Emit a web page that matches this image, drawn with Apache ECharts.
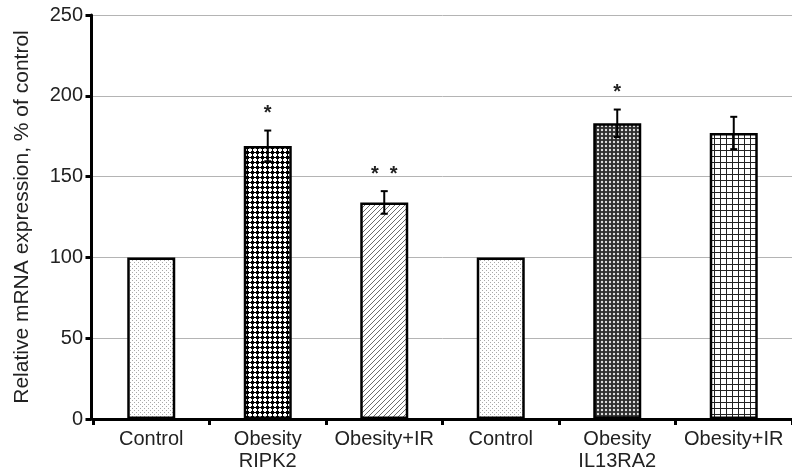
<!DOCTYPE html>
<html>
<head>
<meta charset="utf-8">
<script src="https://cdn.jsdelivr.net/npm/echarts@6/dist/echarts.min.js"></script>
<style>
  html, body { margin: 0; padding: 0; background: #fff; }
  #chart { width: 792px; height: 472px; }
</style>
</head>
<body>
<div id="chart"></div>
<script>
// Relative mRNA expression of RIPK2 and IL13RA2 (% of control)
const categories = ['Control', 'Obesity\nRIPK2', 'Obesity+IR', 'Control', 'Obesity\nIL13RA2', 'Obesity+IR'];
const expression = [100, 169, 134, 100, 183, 177];
const errors = [0, 9.5, 7, 0, 8.5, 10];
const significance = ['', '*', '*  *', '', '*', ''];
const fillKinds = ['dots', 'checker', 'hatch', 'dots', 'darkDots', 'grid'];

const FONT = 'Liberation Sans, Arial, sans-serif';

// Small repeating tiles used as bar fills
function makeTile(kind) {
  const c = document.createElement('canvas');
  const ctx = c.getContext('2d');
  if (kind === 'dots') {
    c.width = 4; c.height = 4;
    ctx.fillStyle = '#fff'; ctx.fillRect(0, 0, 4, 4);
    ctx.fillStyle = '#a8a8a8';
    ctx.fillRect(0, 0, 1, 1);
    ctx.fillRect(2, 2, 1, 1);
  } else if (kind === 'checker') {
    c.width = 5; c.height = 5;
    ctx.fillStyle = '#fff'; ctx.fillRect(0, 0, 5, 5);
    ctx.fillStyle = '#000';
    ctx.fillRect(1, 1, 3, 3);
    ctx.fillRect(2, 0, 1, 5);
    ctx.fillRect(0, 2, 5, 1);
  } else if (kind === 'hatch') {
    c.width = 5; c.height = 5;
    ctx.fillStyle = '#fff'; ctx.fillRect(0, 0, 5, 5);
    ctx.strokeStyle = '#6a6a6a'; ctx.lineWidth = 1;
    ctx.beginPath();
    ctx.moveTo(-1, 6); ctx.lineTo(6, -1);
    ctx.moveTo(-1, 1); ctx.lineTo(1, -1);
    ctx.moveTo(4, 6); ctx.lineTo(6, 4);
    ctx.stroke();
  } else if (kind === 'darkDots') {
    c.width = 4; c.height = 4;
    ctx.fillStyle = '#2e2e2e'; ctx.fillRect(0, 0, 4, 4);
    ctx.fillStyle = '#e0e0e0';
    ctx.beginPath(); ctx.arc(2, 2, 1.2, 0, Math.PI * 2); ctx.fill();
  } else if (kind === 'grid') {
    c.width = 6; c.height = 6;
    ctx.fillStyle = '#fff'; ctx.fillRect(0, 0, 6, 6);
    ctx.fillStyle = '#222';
    ctx.fillRect(0, 0, 6, 1);
    ctx.fillRect(0, 0, 1, 6);
  }
  return c;
}

const barData = expression.map((v, i) => ({
  value: v,
  itemStyle: { color: { image: makeTile(fillKinds[i]), repeat: 'repeat' } }
}));

const errorData = expression.map((v, i) => [i, v - errors[i], v + errors[i], errors[i]]);

const chart = echarts.init(document.getElementById('chart'), null, { renderer: 'canvas' });

chart.setOption({
  animation: false,
  backgroundColor: '#fff',
  grid: { left: 93, top: 15, width: 706, height: 406.5 },
  xAxis: {
    type: 'category',
    data: categories,
    axisLine: { lineStyle: { color: '#000', width: 3 } },
    axisTick: { show: true, length: 6, lineStyle: { color: '#000', width: 3 } },
    axisLabel: { interval: 0, color: '#222', fontSize: 20, fontFamily: FONT, lineHeight: 22, margin: 9 }
  },
  yAxis: {
    type: 'value',
    min: 0, max: 250, interval: 50,
    offset: 1.5,
    name: 'Relative mRNA expression, % of control',
    nameLocation: 'middle',
    nameRotate: 90,
    nameGap: 58.5,
    nameTextStyle: { color: '#222', fontSize: 21, fontFamily: FONT },
    axisLine: { show: true, lineStyle: { color: '#000', width: 3 } },
    axisTick: { show: true, length: 6, lineStyle: { color: '#000', width: 3 } },
    axisLabel: { color: '#222', fontSize: 20, fontFamily: FONT, margin: 8.5 },
    splitLine: { show: true, lineStyle: { color: '#b4b4b4', width: 1 } }
  },
  series: [
    {
      type: 'bar',
      data: barData,
      barWidth: 48,
      itemStyle: { borderColor: '#000', borderWidth: 2.5 }
    },
    {
      type: 'custom',
      data: errorData,
      z: 10,
      renderItem: function (params, api) {
        const i = api.value(0);
        const err = api.value(3);
        const children = [];
        const lo = api.coord([i, api.value(1)]);
        const hi = api.coord([i, api.value(2)]);
        const cap = 3.5;
        if (err > 0) {
          const style = { stroke: '#000', lineWidth: 2 };
          children.push(
            { type: 'line', shape: { x1: hi[0], y1: hi[1], x2: lo[0], y2: lo[1] }, style: style },
            { type: 'line', shape: { x1: hi[0] - cap, y1: hi[1], x2: hi[0] + cap, y2: hi[1] }, style: style },
            { type: 'line', shape: { x1: lo[0] - cap, y1: lo[1], x2: lo[0] + cap, y2: lo[1] }, style: style }
          );
        }
        const mark = significance[params.dataIndex];
        if (mark) {
          children.push({
            type: 'text',
            style: {
              text: mark,
              x: hi[0], y: hi[1] - 7,
              align: 'center', verticalAlign: 'bottom',
              font: 'bold 20px ' + FONT,
              fill: '#222'
            }
          });
        }
        return { type: 'group', children: children };
      }
    }
  ]
});
</script>
</body>
</html>
